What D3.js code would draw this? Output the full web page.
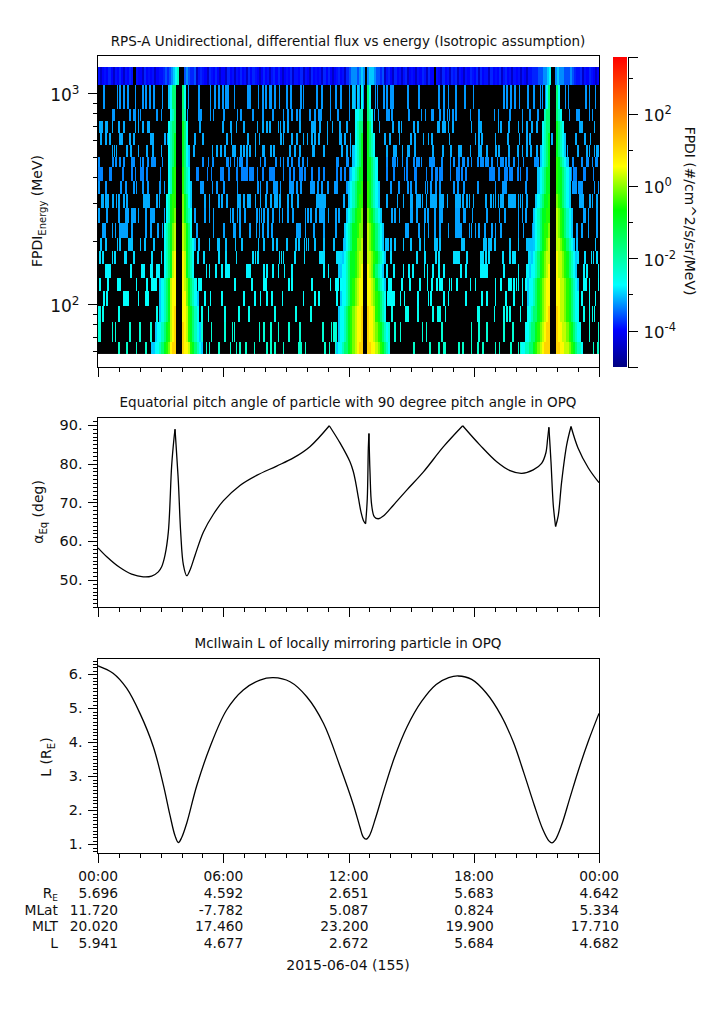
<!DOCTYPE html>
<html><head><meta charset="utf-8">
<script src="https://cdn.jsdelivr.net/npm/d3@7"></script>
<style>
html,body{margin:0;padding:0;background:#fff}
text{font-family:"DejaVu Sans",sans-serif;fill:#111}
.axis path,.axis line{stroke:#000;stroke-width:1;shape-rendering:crispEdges}
</style></head><body><svg id="c" width="725" height="1019"></svg>
<script>
// ---------- spectrogram: energy bins (MeV, top to bottom)
const energyEdges=[1328,1091,840,737,646,567,497,446,383,332,285,242,205.5,178,155,133,115,98,82,66,58];
// top energy bin: one string per hour, one digit per 6 minutes, digit indexes topRowFlux
const topRowFlux=[null,-4.45,-4.0,-3.92,-3.82,-3.6,-3.3,-3.0,-2.7,-2.2];
const topRowLevels=["3123242132","4213243032","2142323123","3454567890","0565445134","3214324212","2142313242","3142432124","2313424212","3241332413","2142323142","4212342314",
"5666567606","7765545134","2142313412","3213243142","2032142314","3413213243","2414233142","3241342313","2313213344","4556678006","7665556543","3413243212"];
// one-count flux of the remaining energy bins (log10), and the 3-minute bins where they were seen
const speckleFlux=[-3.25,-3.25,-3.15,-3.15,-3.15,-3.3,-3.35,-3.25,-3.15,-3.2,-3.2,-3.05,-2.9,-2.8,-2.74,-2.72,-2.6,-2.4,-2.3];
const speckleBins=[
[5,18,20,24,28,35,42,45,49,53,61,82,83,86,96,107,111,115,119,122,124,130,143,145,153,157,160,164,165,169,173,180,184,194,196,209,214,222,227,232,240,244,246,249,253,265,267,273,276,280,282,296,307,326,331,335,342,351,359,388,391,395,399,403,411,417,423,425,428,447,450,467,470,476],
[13,14,15,30,34,35,38,40,56,60,69,85,96,97,98,107,110,120,133,136,148,157,167,177,181,185,190,193,202,207,211,212,213,222,229,240,264,268,276,278,281,297,309,313,319,320,327,331,334,336,339,342,356,364,379,383,394,406,413,421,443,451,458,460,470,473],
[1,2,3,7,8,13,19,24,35,38,42,47,48,80,97,119,126,127,132,139,152,157,161,164,172,174,177,178,181,193,204,205,207,212,219,224,231,238,269,282,287,288,290,302,306,325,326,330,331,332,335,339,357,364,366,383,385,393,402,406,410,415,420,461,463,475],
[2,7,11,20,21,22,30,34,50,51,52,63,64,66,81,92,100,123,127,143,150,154,174,175,177,185,190,196,200,204,207,211,219,231,232,236,241,274,279,288,299,303,311,316,319,336,361,364,367,380,392,403,410,413,434,457,466,471],
[13,15,17,27,31,38,46,52,60,87,91,109,113,117,121,128,129,130,131,136,139,142,145,150,157,158,165,168,183,188,193,205,206,216,233,241,238,276,283,285,291,296,297,303,320,330,337,338,345,346,347,356,364,365,366,372,380,381,383,384,393,401,402,406,410,414,420,449,459,468,470,475,477,478],
[0,13,14,16,17,20,24,32,33,34,40,42,47,51,53,54,61,83,100,105,109,110,123,124,126,130,133,135,137,142,155,159,170,174,177,181,185,192,195,196,200,228,229,238,239,276,282,283,284,286,291,295,302,305,307,309,317,318,320,321,329,337,340,345,349,350,354,357,363,366,368,371,373,377,382,385,387,390,393,398,402,407,418,420,421,454,463,468,469,473,476,477],
[0,1,2,3,11,12,23,32,35,40,41,42,46,59,94,95,104,108,117,118,119,125,132,133,137,139,140,142,145,147,148,152,157,164,165,167,168,177,183,187,193,194,195,197,198,204,211,216,228,232,236,240,276,283,293,295,303,304,314,319,323,324,327,329,337,343,345,348,352,375,377,378,379,383,384,389,391,394,396,401,402,404,410,451,453,455,457,465,466,474],
[0,7,21,26,34,36,42,47,58,59,63,88,98,99,100,109,113,120,133,152,153,155,161,168,169,171,174,183,184,186,190,194,203,204,206,210,214,219,220,226,228,238,239,241,280,287,288,296,299,304,313,315,318,323,327,340,344,350,363,380,387,388,390,409,454,455,457,460,462,463,475,479],
[3,4,7,9,13,14,17,19,24,27,43,45,46,47,48,56,58,102,106,115,118,123,133,134,135,139,143,145,150,155,160,165,169,171,173,174,181,185,191,209,211,213,215,217,235,240,276,286,292,299,300,305,306,308,310,314,318,320,321,323,327,329,330,334,342,344,346,349,353,355,359,371,376,378,380,383,385,387,393,395,396,398,399,402,404,406,410,461,462,464,470,471,473,477],
[0,8,19,26,27,28,32,34,35,38,45,50,51,53,63,92,102,106,110,126,128,129,133,135,140,151,152,154,156,158,162,167,173,176,181,186,198,200,201,203,208,212,214,216,220,227,230,238,281,284,288,299,300,305,312,313,315,316,322,327,329,342,343,345,350,351,358,372,384,389,402,406,409,465,466,469,477],
[4,6,13,16,20,22,24,26,27,32,45,50,57,61,94,110,120,129,130,131,135,145,151,154,157,162,166,190,191,193,198,206,216,227,239,294,296,307,312,316,322,327,335,342,343,345,347,355,357,361,364,370,377,380,385,402,407,416,418,420,458,463,469,477],
[2,7,18,20,29,31,32,40,44,53,92,96,106,114,115,122,131,137,153,158,167,171,180,189,192,197,199,201,207,216,225,235,275,277,280,284,292,299,308,312,322,324,327,348,350,369,371,374,376,379,380,394,402,410,412,414,416,458,476],
[1,4,13,15,16,25,26,34,51,60,95,101,115,122,132,148,150,152,153,173,175,177,188,197,212,214,216,228,230,232,234,280,305,312,313,323,326,340,342,343,345,353,366,368,371,374,387,394,397,399,412,414,415,454,459,466,472,474,477],
[7,8,10,11,31,41,42,43,50,51,56,57,58,103,106,112,118,122,123,125,142,144,145,158,161,167,172,178,185,216,220,230,232,235,276,283,292,297,301,312,315,320,326,331,347,352,366,368,370,372,388,402,410,412,414,415,465,468,479],
[1,9,18,19,20,36,46,51,53,55,60,96,98,130,131,147,158,160,182,185,204,222,227,229,232,278,280,290,291,298,308,315,319,324,327,329,336,338,343,356,361,380,385,393,395,398,400,402,406,409,465,467,470,479],
[5,8,24,26,28,38,45,47,95,102,107,118,139,149,150,155,161,166,176,196,207,211,228,232,277,279,281,283,289,293,306,316,318,331,335,352,367,372,380,390,398,406,463,470,476],
[0,1,4,19,56,60,99,105,121,134,144,169,189,203,230,233,281,294,296,306,320,325,327,332,363,364,379,388,391,394,404,414,465,470,473,475],
[0,1,13,16,30,39,40,50,60,99,108,121,128,130,154,158,165,172,182,193,215,223,225,227,278,284,289,310,314,329,357,364,372,388,397,414,470,479],
[19,27,36,45,51,103,106,115,126,132,135,141,149,161,165,169,177,192,194,198,217,221,227,229,302,317,326,331,332,345,349,357,363,368,380,384,395,402,404,406,407,474,478]];
// radiation belt passes: digit strings per energy bin, one digit per 6 minutes, digit indexes beltFlux
const beltFlux=[-3.0,-2.7,-2.2,-1.6,-0.9,-0.5,-0.1,0.25,0.6,1.05];
const beltGaps=[[3.74,4.02],[12.69,12.89],[21.65,21.94]];
const belt1In=["0133","123","1233","1234","1234","1234","1245","1245","12455","12456","123467","123467","123478","123478","01234788","01234788","01234789","0112345789","001123456899"];
const belt1Out=["31","32","431","431","4310","4310","5321","53210","64310","64321","76431","764321","874321","874321","8764321","88643210","88754321","987543210","9887543210"];
const belt2In=["0.0.1","1122","1233","1234","01234","01234","012344","0123445","0123455","01234556","012344566","012344667","0123445677","001123445678","1123456788","01123456788","011234567889","011234567889","0112334567899"];
const belt2Out=["31","321","431","4321","4321","44321","44321","543210","543210","6543210","76543210","76543210","776543210","87643210","887643210","887654321","988754321","9887654321","99887654321"];
const belt3In=["13","233","1233","1234","01234","01234","012344","012344","0123445","01234455","01234556","01234567","012345677","0112345678","01123456788","01123456788","11233456789","112334567899","11223345678999"];
const belt3Out=["31","321","4321","43210","43210","543210","5443210","5443210","6543210","76543210","76543210","776543210","8776543210","8776543210","88776543210","88776543211","98776543211","988776543211","9988776543221"];
// colour bar
const cbLogs=[-5.01,-3.99,-2.74,-0.66,0.54,3.57];
const cbColors=["#000080","#0000ff","#00ffff","#00ff00","#ffff00","#ff0000"];
const cbMajor=[-4,-2,0,2], cbMinor=[-5,-3,-1,1,3];
// line panels: hours of day and values
const pitchHours=[0,.42,1.05,1.61,2.17,2.57,2.89,3.05,3.21,3.37,3.53,3.64,3.69,3.74,3.85,3.96,4.09,4.25,4.41,4.65,5.05,5.52,6,6.8,7.6,8.56,9.36,10.15,11.08,11.6,12.07,12.23,12.34,12.47,12.6,12.72,12.82,12.9,12.95,12.98,13.03,13.11,13.24,13.43,13.67,14.15,14.79,15.59,16.55,17.47,18.3,19.1,19.74,20.3,20.85,21.25,21.45,21.54,21.6,21.7,21.81,21.92,22.05,22.21,22.45,22.66,23,23.49,24];
const pitchDeg=[58.3,56,53.2,51.5,50.8,51,52.1,53.4,56.4,62.4,79.6,86.5,88.9,84.8,75.3,62.4,53.9,51.1,52.6,56.4,62.4,66.9,70.4,74.4,77,79.4,81.5,84.4,89.8,85.3,80.5,78,75.3,71.3,67.5,65.3,64.5,71,84,87.8,77.9,69.3,66.3,65.8,66.5,69.3,73.2,77.9,84.4,89.8,84.8,80.5,78.2,77.5,78.4,80.1,82.7,86.5,89.4,80.5,69.3,63.8,66.7,75.3,84.8,89.6,84,78.9,75.1];
const pitchCusps=[3.69,11.08,12.82,12.98,17.47,21.6,21.92,22.66];
const lHours=[0,.72,1.37,2.01,2.65,3.13,3.45,3.69,3.85,4.01,4.25,4.73,5.37,6.16,6.96,7.76,8.4,9.2,10,10.8,11.6,12.24,12.55,12.7,12.84,13,13.3,13.7,14.2,14.8,15.5,16.2,16.8,17.25,17.9,18.6,19.3,19.9,20.4,20.9,21.3,21.6,21.75,21.9,22.2,22.6,23,23.5,24];
const lValues=[6.245,6.03,5.59,4.85,3.87,2.75,1.85,1.25,1.05,1.2,1.62,2.72,3.87,4.95,5.54,5.83,5.9,5.78,5.34,4.56,3.28,2.15,1.5,1.22,1.15,1.25,1.78,2.6,3.55,4.45,5.2,5.7,5.9,5.95,5.85,5.45,4.8,4,3.1,2.15,1.45,1.1,1.04,1.12,1.55,2.35,3.15,4.05,4.85];
// annotation rows under the time axis
const timeTicks=[0,6,12,18,24], timeLabels=["00:00","06:00","12:00","18:00","00:00"];
const rowRE=["5.696","4.592","2.651","5.683","4.642"];
const rowMLat=["11.720","-7.782","5.087","0.824","5.334"];
const rowMLT=["20.020","17.460","23.200","19.900","17.710"];
const rowL=["5.941","4.677","2.672","5.684","4.682"];

// ---------- drawing
const svg=d3.select("#c");
const FS=13.5;
const xL=98,xR=599;
const x=d3.scaleLinear().domain([0,24]).range([xL,xR]);
const yE=d3.scaleLog().domain([50.3,1514]).range([367,55]);
const yP=d3.scaleLinear().domain([42.95,91.88]).range([607.3,417.7]);
const yM=d3.scaleLinear().domain([.735,6.47]).range([853.3,658.3]);
const colorOf=d3.scaleLinear().domain(cbLogs).range(cbColors).clamp(true);
const hourTicks=d3.range(0,25);
const hrMin=hourTicks.filter(h=>h%6);

// spectrogram cells
const cells=[];
topRowLevels.join("").split("").forEach((c,i)=>{ if(c!=="0") cells.push({r:0,t:i*.1,d:.1,f:topRowFlux[+c]}); });
speckleBins.forEach((bins,k)=>bins.forEach(b=>cells.push({r:k+1,t:b*.05,d:.08,f:speckleFlux[k]})));
[[belt1In,belt1Out],[belt2In,belt2Out],[belt3In,belt3Out]].forEach(([inn,out],b)=>{
  inn.forEach((s,k)=>s.split("").forEach((c,i)=>{ if(c!==".") cells.push({r:k+1,t:beltGaps[b][0]-(s.length-i)*.1,d:.1,f:beltFlux[+c]}); }));
  out.forEach((s,k)=>s.split("").forEach((c,i)=>cells.push({r:k+1,t:beltGaps[b][1]+i*.1,d:.1,f:beltFlux[+c]})));
});
svg.append("rect").attr("x",x(0)).attr("width",x(24)-x(0)).attr("y",yE(energyEdges[0])).attr("height",yE(energyEdges[20])-yE(energyEdges[0])).attr("fill","#000");
svg.append("g").attr("shape-rendering","crispEdges").selectAll("rect").data(cells).join("rect")
 .attr("x",d=>x(d.t)).attr("width",d=>Math.min(x(24)-x(d.t),x(d.t+d.d)-x(d.t)))
 .attr("y",d=>yE(energyEdges[d.r]))
 .attr("height",d=>yE(energyEdges[d.r+1])-yE(energyEdges[d.r]))
 .attr("fill",d=>colorOf(d.f));

function frame(y0,y1){
  svg.append("rect").attr("x",xL-.5).attr("y",y0).attr("width",xR-xL+1).attr("height",y1-y0).attr("fill","none").attr("stroke","#000").attr("shape-rendering","crispEdges");
  const g=svg.append("g").attr("class","axis").attr("transform",`translate(0,${y1})`);
  g.call(d3.axisBottom(x).tickValues(hourTicks.filter(h=>h%6===0)).tickSize(10).tickFormat("")).select(".domain").remove();
  const g2=svg.append("g").attr("class","axis").attr("transform",`translate(0,${y1})`);
  g2.call(d3.axisBottom(x).tickValues(hrMin).tickSize(5).tickFormat("")).select(".domain").remove();
}
function leftAxis(scale,major,minor,fmt){
  const g=svg.append("g").attr("class","axis").attr("transform",`translate(${xL-.5},0)`);
  g.call(d3.axisLeft(scale).tickValues(major).tickSize(10).tickPadding(5).tickFormat(fmt||(d=>d+".")));
  g.selectAll("text").attr("font-size",14.5);
  g.select(".domain").remove();
  const m=svg.append("g").attr("class","axis").attr("transform",`translate(${xL-.5},0)`);
  m.call(d3.axisLeft(scale).tickValues(minor).tickSize(5).tickFormat(""));
  m.select(".domain").remove();
  return g;
}
function title(t,y){svg.append("text").attr("x",348).attr("y",y).attr("text-anchor","middle").attr("font-size",FS).text(t);}

frame(55,367); frame(417.7,607.3); frame(658.3,853.3);
title("RPS-A Unidirectional, differential flux vs energy (Isotropic assumption)",46);
title("Equatorial pitch angle of particle with 90 degree pitch angle in OPQ",407);
title("McIlwain L of locally mirroring particle in OPQ",648);

// energy axis
const eMinor=[60,70,80,90,200,300,400,500,600,700,800,900];
const eg=leftAxis(yE,[100,1000],eMinor,()=>"");
eg.selectAll(".tick").each(function(d){
  const t=d3.select(this).select("text").attr("x",-18).attr("y",7).attr("dy",0).text(null);
  t.append("tspan").attr("font-size",17).text("10");
  t.append("tspan").attr("font-size",12).attr("dy",-7).text(Math.round(Math.log10(d)));
});
// pitch and L axes
leftAxis(yP,[50,60,70,80,90],d3.range(43,92));
leftAxis(yM,[1,2,3,4,5,6],d3.range(8,65).map(v=>v/10));

function lineByParts(xs,ys,yS,breaks){
  const gen=d3.line().x(i=>x(xs[i])).y(i=>yS(ys[i])).curve(d3.curveCatmullRom.alpha(.5));
  const idx=[0,...breaks.map(b=>xs.indexOf(b)),xs.length-1];
  d3.pairs(idx).forEach(([a,b])=>svg.append("path").attr("d",gen(d3.range(a,b+1))).attr("fill","none").attr("stroke","#000").attr("stroke-width",1.3));
}
lineByParts(pitchHours,pitchDeg,yP,pitchCusps);
lineByParts(lHours,lValues,yM,[]);

// y titles
function ylab(px,py,parts){
  const t=svg.append("text").attr("transform",`translate(${px},${py}) rotate(-90)`).attr("text-anchor","middle").attr("font-size",14);
  parts.forEach(([s,sub],i)=>{
    const ts=t.append("tspan").text(s);
    if(sub){ts.attr("font-size",10).attr("dy",4);}
    else if(i>0){ts.attr("dy",-4);}
  });
}
ylab(42,211,[["FPDI"],["Energy",1],[" (MeV)"]]);
ylab(43,512,[["α"],["Eq",1],[" (deg)"]]);
ylab(51,757,[["L (R"],["E",1],[")"]]);

// colour bar
const yC=d3.scaleLinear().domain([-5.01,3.57]).range([367,57]);
const defs=svg.append("defs").append("linearGradient").attr("id","cb").attr("x1",0).attr("x2",0).attr("y1",1).attr("y2",0);
cbLogs.forEach((l,i)=>defs.append("stop").attr("offset",(l-cbLogs[0])/(cbLogs[5]-cbLogs[0])).attr("stop-color",cbColors[i]));
svg.append("rect").attr("x",613).attr("y",57).attr("width",14).attr("height",310).attr("fill","url(#cb)");
const cg=svg.append("g").attr("class","axis").attr("transform","translate(627.5,0)");
cg.call(d3.axisRight(yC).tickValues(cbMajor).tickSize(10).tickFormat(""));
cg.selectAll(".tick").each(function(d){
  const t=d3.select(this).select("text").attr("x",16).attr("y",7).attr("dy",0).text(null);
  t.append("tspan").attr("font-size",16.5).text("10");
  t.append("tspan").attr("font-size",11.5).attr("dy",-7).text(d);
});
const cm=svg.append("g").attr("class","axis").attr("transform","translate(627.5,0)");
cm.call(d3.axisRight(yC).tickValues(cbMinor).tickSize(5).tickFormat(""));
svg.append("text").attr("transform","translate(685,211) rotate(90)").attr("text-anchor","middle").attr("font-size",13.9).text("FPDI (#/cm^2/s/sr/MeV)");

// annotation table
const rowsY=[881,898,915,931,948];
[timeLabels,rowRE,rowMLat,rowMLT,rowL].forEach((row,r)=>{
  svg.append("g").selectAll("text").data(row).join("text").attr("x",(d,i)=>x(timeTicks[i])+20).attr("y",rowsY[r]).attr("text-anchor","end").attr("font-size",13.8).text(d=>d);
});
const re=svg.append("text").attr("x",58).attr("y",rowsY[1]).attr("text-anchor","end").attr("font-size",13.8);
re.append("tspan").text("R"); re.append("tspan").attr("font-size",9).attr("dy",3).text("E");
svg.append("text").attr("x",58).attr("y",rowsY[2]).attr("text-anchor","end").attr("font-size",13.8).text("MLat");
svg.append("text").attr("x",58).attr("y",rowsY[3]).attr("text-anchor","end").attr("font-size",13.8).text("MLT");
svg.append("text").attr("x",58).attr("y",rowsY[4]).attr("text-anchor","end").attr("font-size",13.8).text("L");
svg.append("text").attr("x",348).attr("y",970).attr("text-anchor","middle").attr("font-size",14).text("2015-06-04 (155)");
</script></body></html>
